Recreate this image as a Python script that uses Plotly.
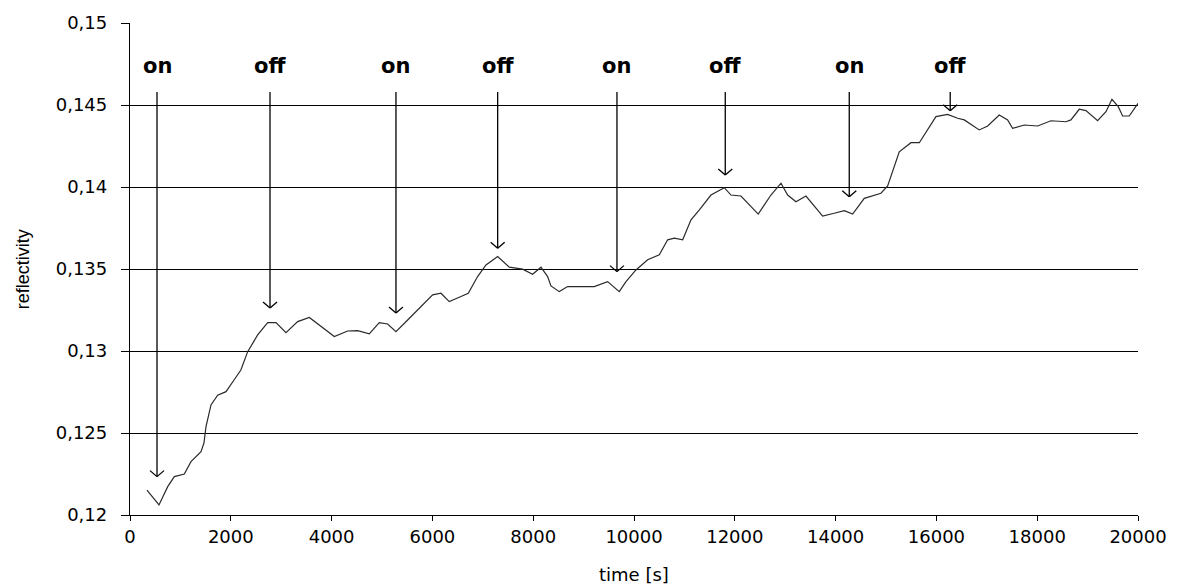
import plotly.graph_objects as go

# ---- data ----
time_s = [337, 575, 748, 880, 1078, 1210, 1409, 1468, 1508, 1607, 1739, 1905, 2064,
          2200, 2335, 2533, 2732, 2897, 3095, 3327, 3558, 3789, 4054, 4318, 4517,
          4748, 4946, 5112, 5277, 5509, 5773, 6005, 6170, 6335, 6567, 6712, 6897,
          7063, 7295, 7526, 7790, 7988, 8154, 8286, 8352, 8518, 8683, 8947, 9212,
          9476, 9708, 9841, 10039, 10271, 10502, 10668, 10801, 10966, 11131, 11297,
          11527, 11791, 11924, 12122, 12465, 12717, 12916, 13049, 13213, 13412,
          13743, 13973, 14172, 14338, 14569, 14900, 15033, 15263, 15495, 15661,
          15991, 16223, 16422, 16553, 16850, 17017, 17247, 17413, 17512, 17743,
          18009, 18273, 18570, 18669, 18834, 18967, 19199, 19364, 19483, 19608,
          19695, 19826, 20000]
reflectivity = [0.12152, 0.12061, 0.12173, 0.12234, 0.12250, 0.12325, 0.12386, 0.12440,
                0.12539, 0.12671, 0.12730, 0.12752, 0.12823, 0.12884, 0.12996, 0.13098,
                0.13173, 0.13173, 0.13112, 0.13179, 0.13204, 0.13149, 0.13088, 0.13122,
                0.13124, 0.13104, 0.13173, 0.13165, 0.13118, 0.13189, 0.13271, 0.13342,
                0.13352, 0.13301, 0.13332, 0.13352, 0.13454, 0.13525, 0.13576, 0.13511,
                0.13499, 0.13468, 0.13511, 0.13454, 0.13397, 0.13362, 0.13393, 0.13393,
                0.13393, 0.13423, 0.13362, 0.13423, 0.13494, 0.13556, 0.13586, 0.13678,
                0.13688, 0.13678, 0.13800, 0.13861, 0.13951, 0.13996, 0.13951, 0.13945,
                0.13835, 0.13951, 0.14023, 0.13951, 0.13910, 0.13945, 0.13823, 0.13840,
                0.13856, 0.13835, 0.13931, 0.13962, 0.14006, 0.14215, 0.14270, 0.14270,
                0.14429, 0.14443, 0.14419, 0.14409, 0.14348, 0.14372, 0.14439, 0.14409,
                0.14358, 0.14378, 0.14372, 0.14404, 0.14398, 0.14409, 0.14474, 0.14466,
                0.14404, 0.14459, 0.14535, 0.14490, 0.14433, 0.14433, 0.14510]

event_time = [536, 2778, 5277, 7295, 9662, 11811, 14271, 16274]
event_label = ["on", "off", "on", "off", "on", "off", "on", "off"]
arrow_tip = [0.12234, 0.13262, 0.13232, 0.13626, 0.13484, 0.14073, 0.13941, 0.14465]
arrow_top = 0.1458
label_level = 0.1474

y_tick_vals = [0.12, 0.125, 0.13, 0.135, 0.14, 0.145, 0.15]
y_tick_text = ["0,12", "0,125", "0,13", "0,135", "0,14", "0,145", "0,15"]
x_tick_vals = [0, 2000, 4000, 6000, 8000, 10000, 12000, 14000, 16000, 18000, 20000]
x_tick_text = [str(v) for v in x_tick_vals]

# ---- figure ----
fig = go.Figure()
fig.add_trace(go.Scatter(x=time_s, y=reflectivity, mode="lines",
                         line=dict(color="#2a2a2a", width=1.2),
                         showlegend=False, hoverinfo="skip"))

shapes = []
annotations = []
for t, tip, lab in zip(event_time, arrow_tip, event_label):
    # shaft
    shapes.append(dict(type="line", xref="x", yref="y", x0=t, x1=t, y0=arrow_top, y1=tip,
                       line=dict(color="black", width=1.3)))
    # open V head (pixel-sized)
    for side in (-7, 7):
        shapes.append(dict(type="line", xref="x", yref="y",
                           xsizemode="pixel", ysizemode="pixel",
                           xanchor=t, yanchor=tip,
                           x0=side, x1=0, y0=6, y1=0,
                           line=dict(color="black", width=1.3)))
    annotations.append(dict(x=t, y=label_level, xref="x", yref="y", text="<b>" + lab + "</b>",
                            showarrow=False, xanchor="center", yanchor="middle",
                            font=dict(family="DejaVu Sans", size=21, color="black")))

annotations.append(dict(x=-0.106, y=0.5, xref="paper", yref="paper", text="reflectivity",
                        textangle=-90, showarrow=False, xanchor="center", yanchor="middle",
                        font=dict(family="Liberation Sans", size=18, color="black")))
annotations.append(dict(x=0.5, y=-0.146, xref="paper", yref="paper", text="time [s]",
                        showarrow=False, xanchor="center", yanchor="bottom",
                        font=dict(family="DejaVu Sans", size=18, color="black")))

fig.update_layout(
    width=1181, height=584,
    margin=dict(l=129.5, r=43, t=23, b=69, pad=0),
    paper_bgcolor="white", plot_bgcolor="white",
    shapes=shapes, annotations=annotations,
    xaxis=dict(range=[0, 20000], tickvals=x_tick_vals, ticktext=x_tick_text,
               showgrid=False, zeroline=False, showline=True, linecolor="black", linewidth=1.3,
               ticks="outside", ticklen=5, tickcolor="black", tickwidth=1.3,
               tickfont=dict(family="DejaVu Sans", size=18, color="black")),
    yaxis=dict(range=[0.12, 0.15], tickvals=y_tick_vals, ticktext=y_tick_text,
               showgrid=True, gridcolor="black", gridwidth=1.3, zeroline=False,
               showline=True, linecolor="black", linewidth=1.3,
               ticks="outside", ticklen=8, tickcolor="black", tickwidth=1.3,
               ticklabelstandoff=10,
               tickfont=dict(family="DejaVu Sans", size=18, color="black")),
)

fig.write_html("out.html")
